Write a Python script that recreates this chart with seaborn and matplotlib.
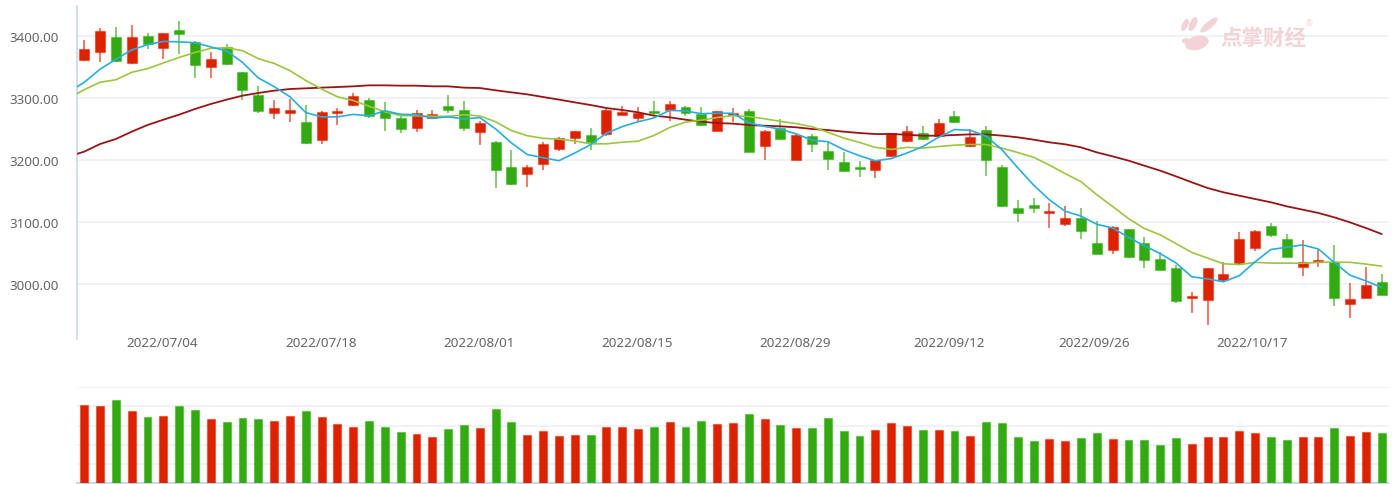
import numpy as np
import pandas as pd
import matplotlib
matplotlib.use("Agg")
import matplotlib.pyplot as plt
import matplotlib.transforms as mtransforms
from matplotlib.patches import Ellipse
import seaborn as sns

# ---------------- data ----------------
opens = [3361, 3374, 3398, 3356, 3399, 3380, 3409, 3390, 3350, 3381,
         3341, 3305, 3276, 3275, 3261, 3232, 3276, 3289, 3296, 3278,
         3268, 3252, 3268, 3287, 3281, 3245, 3229, 3188, 3177, 3194,
         3217, 3235, 3240, 3242, 3273, 3267, 3278, 3281, 3285, 3274,
         3247, 3273, 3278, 3222, 3251, 3200, 3239, 3215, 3196, 3188,
         3183, 3206, 3230, 3244, 3239, 3270, 3223, 3248, 3189, 3122,
         3127, 3115, 3097, 3106, 3066, 3054, 3089, 3066, 3040, 3026,
         2977, 2975, 3006, 3034, 3058, 3094, 3072, 3028, 3035, 3035,
         2967, 2977, 3003]
highs = [3393, 3412, 3414, 3417, 3404, 3405, 3424, 3391, 3374, 3386,
         3341, 3319, 3296, 3298, 3289, 3278, 3283, 3307, 3300, 3293,
         3272, 3281, 3281, 3305, 3294, 3262, 3230, 3216, 3191, 3228,
         3237, 3247, 3252, 3282, 3287, 3285, 3294, 3295, 3287, 3285,
         3279, 3284, 3282, 3248, 3265, 3241, 3242, 3230, 3213, 3198,
         3200, 3244, 3254, 3254, 3265, 3278, 3250, 3254, 3191, 3135,
         3138, 3130, 3125, 3123, 3102, 3093, 3089, 3076, 3052, 3030,
         2987, 3026, 3035, 3083, 3087, 3099, 3081, 3071, 3055, 3063,
         3002, 3028, 3016]
lows = [3360, 3358, 3358, 3355, 3378, 3362, 3371, 3332, 3332, 3353,
        3297, 3276, 3265, 3261, 3226, 3226, 3256, 3287, 3268, 3247,
        3243, 3245, 3265, 3276, 3247, 3224, 3155, 3160, 3156, 3184,
        3214, 3226, 3216, 3238, 3273, 3263, 3270, 3263, 3271, 3255,
        3247, 3261, 3212, 3199, 3232, 3199, 3212, 3184, 3181, 3173,
        3171, 3205, 3228, 3232, 3237, 3260, 3220, 3174, 3124, 3100,
        3114, 3091, 3093, 3072, 3048, 3048, 3042, 3026, 3023, 2969,
        2954, 2934, 3005, 3032, 3053, 3075, 3043, 3013, 3027, 2965,
        2945, 2977, 2982]
closes = [3378, 3407, 3359, 3398, 3386, 3404, 3403, 3353, 3363, 3354,
          3312, 3278, 3283, 3281, 3227, 3277, 3278, 3303, 3270, 3267,
          3249, 3275, 3274, 3281, 3251, 3259, 3184, 3161, 3188, 3225,
          3235, 3246, 3228, 3281, 3277, 3275, 3276, 3290, 3275, 3256,
          3278, 3276, 3213, 3246, 3234, 3240, 3225, 3201, 3182, 3185,
          3199, 3243, 3246, 3234, 3260, 3261, 3237, 3199, 3125, 3114,
          3122, 3118, 3107, 3086, 3048, 3092, 3043, 3039, 3023, 2973,
          2980, 3026, 3016, 3072, 3085, 3079, 3044, 3035, 3039, 2977,
          2976, 2998, 2982]
volumes = [410, 403, 434, 375, 343, 349, 402, 380, 332, 320,
           338, 332, 326, 349, 375, 345, 308, 294, 326, 294,
           266, 254, 242, 282, 301, 289, 387, 319, 252, 270,
           246, 252, 252, 294, 294, 282, 294, 319, 294, 326,
           308, 313, 360, 333, 301, 289, 289, 338, 272, 247,
           277, 313, 296, 277, 277, 272, 247, 319, 313, 240,
           219, 230, 219, 235, 261, 228, 224, 224, 199, 235,
           205, 241, 241, 272, 261, 241, 224, 241, 241, 289,
           247, 266, 260]
# moving averages, first value belongs to the session before the first candle
ma5 = [3309, 3325, 3346, 3362, 3377,
       3385.6, 3390.8, 3390.0, 3388.8, 3381.8, 3375.4, 3357.0, 3332.0, 3318.0, 3301.6,
       3276.2, 3269.2, 3269.2, 3273.2, 3271.0, 3279.0, 3273.4, 3272.8, 3267.0, 3269.2,
       3266.0, 3268.0, 3249.8, 3227.2, 3208.6, 3203.4, 3198.6, 3211.0, 3224.4, 3243.0,
       3253.4, 3261.4, 3267.4, 3279.8, 3278.6, 3274.4, 3275.0, 3275.0, 3259.6, 3253.8,
       3249.4, 3241.8, 3231.6, 3229.2, 3216.4, 3206.6, 3198.4, 3202.0, 3211.0, 3221.4,
       3236.4, 3248.8, 3247.6, 3238.2, 3216.4, 3187.2, 3159.4, 3135.6, 3117.2, 3109.4,
       3096.2, 3090.2, 3075.2, 3061.6, 3049.0, 3034.0, 3011.6, 3008.2, 3003.6, 3013.4,
       3035.8, 3055.6, 3059.2, 3063.0, 3056.4, 3034.8, 3014.2, 3005.0, 2994.4]
ma10 = [3299, 3313, 3325, 3329, 3341, 3347, 3356, 3365, 3373, 3379.6,
        3380.5, 3375.9, 3363.0, 3355.4, 3343.7, 3327.8, 3314.1, 3301.6, 3295.6, 3286.3,
        3277.6, 3271.3, 3271.0, 3270.1, 3270.1, 3272.5, 3270.7, 3261.3, 3247.1, 3238.9,
        3234.7, 3233.3, 3230.4, 3225.8, 3225.8, 3228.4, 3230.0, 3239.2, 3252.1, 3260.8,
        3263.9, 3268.2, 3271.2, 3269.7, 3266.2, 3261.9, 3258.4, 3253.3, 3244.4, 3235.1,
        3228.0, 3220.1, 3216.8, 3220.1, 3218.9, 3221.5, 3223.6, 3224.8, 3224.6, 3218.9,
        3211.8, 3204.1, 3191.6, 3177.7, 3164.9, 3143.7, 3124.8, 3105.4, 3089.4, 3079.2,
        3065.1, 3050.9, 3041.7, 3032.6, 3031.2, 3034.9, 3033.6, 3033.7, 3033.3, 3034.9,
        3035.3, 3034.9, 3032.1, 3028.7]
ma30 = [3205.5, 3213.2, 3225.5, 3233.6, 3245.4, 3256.1, 3264.7, 3272.8, 3281.9, 3290.0,
        3297.0, 3303.4, 3307.7, 3311.4, 3314.1, 3315.2, 3316.3, 3317.3, 3318.4, 3320.0,
        3320.0, 3319.5, 3319.5, 3318.4, 3318.4, 3316.3, 3315.7, 3312.0, 3308.7, 3305.5,
        3301.2, 3297.0, 3292.6, 3288.3, 3283.5, 3280.3, 3276.5, 3271.2, 3268.5, 3264.7,
        3261.5, 3259.3, 3258.3, 3256.1, 3255.0, 3254.0, 3252.4, 3249.7, 3248.0, 3245.4,
        3243.2, 3241.6, 3241.6, 3240.5, 3238.9, 3238.9, 3240.0, 3241.0, 3241.0, 3239.0,
        3236.3, 3232.5, 3228.2, 3225.0, 3220.1, 3212.0, 3205.6, 3198.7, 3190.6, 3182.6,
        3173.4, 3163.8, 3154.6, 3147.7, 3142.3, 3136.9, 3131.6, 3125.1, 3119.8, 3114.4,
        3107.4, 3099.3, 3090.2, 3080.5]
price_ticks = [3000, 3100, 3200, 3300, 3400]
date_labels = ["2022/07/04", "2022/07/18", "2022/08/01", "2022/08/15",
               "2022/08/29", "2022/09/12", "2022/09/26", "2022/10/17"]
date_label_pos = [4.95, 14.95, 24.95, 34.95, 44.95, 54.65, 63.85, 73.8]

# ---------------- style ----------------
sns.set_theme(style="white")
plt.rcParams['font.family'] = ['Noto Sans', 'DejaVu Sans']

RED = '#dd2200'
GREEN = '#33aa11'
GRID = '#eef1f6'
AXIS = '#c8d7ee'
TXT = '#666666'

W, H = 1394, 485
fig = plt.figure(figsize=(W / 100, H / 100), dpi=100)
fig.patch.set_facecolor('white')


def px_axes(l, t, r, b):
    return fig.add_axes([l / W, 1 - b / H, (r - l) / W, (b - t) / H])


ax = px_axes(76.5, 6.7, 1388, 340)
axv = px_axes(76.5, 388.3, 1388, 484)

n = len(closes)
df = pd.DataFrame(dict(i=np.arange(n), o=opens, h=highs, l=lows, c=closes, v=volumes))
df['dir'] = np.where(df.c >= df.o, 'up', 'down')
pal = {'up': RED, 'down': GREEN}
cols = df['dir'].map(pal).values

# ---------------- candles ----------------
ax.vlines(df.i, df.l, df.h, colors=cols, linewidth=1.1, alpha=0.75, zorder=2)
body_bottom = np.minimum(df.o, df.c)
body_h = np.maximum(np.abs(df.c - df.o), 1.6)
edge = [matplotlib.colors.to_rgba(c, 0.45) for c in cols]
ax.bar(df.i, body_h, bottom=body_bottom, width=0.63, color=cols,
       edgecolor=edge, linewidth=0.9, zorder=3)

ma_x = np.arange(-1, n)
ma_df = pd.DataFrame(dict(x=ma_x, ma5=ma5, ma10=ma10, ma30=ma30))
sns.lineplot(data=ma_df, x='x', y='ma30', ax=ax, color='#9a1414', linewidth=1.3, zorder=4)
sns.lineplot(data=ma_df, x='x', y='ma10', ax=ax, color='#9cc63c', linewidth=1.2, zorder=4)
sns.lineplot(data=ma_df, x='x', y='ma5', ax=ax, color='#27aee0', linewidth=1.2, zorder=5)

ax.set_xlim(-0.49, 82.4)
ax.set_ylim(2911.4, 3448.3)
ax.set_yticks(price_ticks)
ax.set_yticklabels([f"{v:.2f}" for v in price_ticks])
ax.set_xticks(date_label_pos)
ax.set_xticklabels(date_labels)
ax.set_xlabel('')
ax.set_ylabel('')
ax.grid(axis='y', color=GRID, linewidth=1.3, zorder=0)
ax.grid(axis='x', visible=False)
ax.set_axisbelow(True)
for s in ['top', 'right', 'bottom']:
    ax.spines[s].set_visible(False)
ax.spines['left'].set_color(AXIS)
ax.spines['left'].set_linewidth(1.2)
ax.tick_params(axis='y', length=0, pad=12.4, labelsize=9.7, labelcolor=TXT)
ax.tick_params(axis='x', length=0, pad=-2.4, labelsize=9.7, labelcolor=TXT)

# ---------------- volume ----------------
sns.barplot(data=df, x='i', y='v', hue='dir', palette=pal, dodge=False,
            native_scale=True, width=0.5, saturation=1, legend=False,
            edgecolor=None, linewidth=0, ax=axv, zorder=3)
for p in axv.patches:
    fc = p.get_facecolor()
    p.set_edgecolor((fc[0], fc[1], fc[2], 0.45))
    p.set_linewidth(0.9)
axv.set_xlim(-0.49, 82.4)
axv.set_ylim(0, 500)
axv.set_yticks([0, 100, 200, 300, 400, 500])
axv.set_yticklabels([])
axv.set_xticks([])
axv.set_xlabel('')
axv.set_ylabel('')
axv.grid(axis='y', color=GRID, linewidth=1.3, zorder=0)
axv.grid(axis='x', visible=False)
axv.set_axisbelow(True)
for s in ['top', 'right', 'left']:
    axv.spines[s].set_visible(False)
axv.spines['bottom'].set_color(AXIS)
axv.spines['bottom'].set_linewidth(1.5)
axv.tick_params(length=0)

# ---------------- watermark ----------------
WM = '#f4d3d7'
fig.text(1263 / W, 1 - 38 / H, "点掌财经", fontsize=15.5, fontweight='bold',
         color=WM, ha='center', va='center',
         family=['Noto Sans CJK SC', 'DejaVu Sans'])
fig.text(1309 / W, 1 - 24 / H, "®", fontsize=6, color=WM, ha='center', va='center')
ident = mtransforms.IdentityTransform()
for (cx, cy, w, h, ang) in [(1185, 26, 6, 13, -25), (1193, 25, 7, 15, -25),
                            (1209, 26, 7, 22, -50), (1197, 44, 24, 14, 15),
                            (1186, 42, 8, 6, 0)]:
    fig.patches.append(Ellipse((cx, H - cy), w, h, angle=ang, transform=ident,
                               facecolor=WM, edgecolor='none', zorder=0))

fig.savefig("out.png", dpi=100, facecolor='white')
